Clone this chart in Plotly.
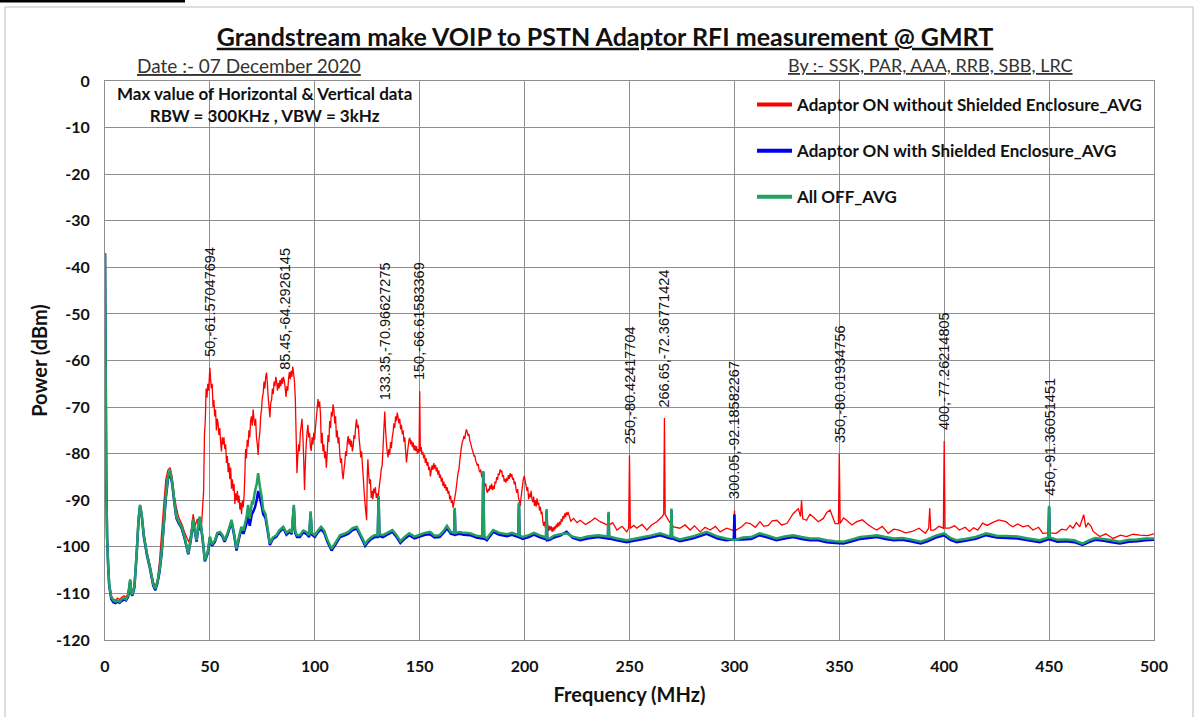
import plotly.graph_objects as go

# ---------------- data ----------------
# Adaptor ON without shielded enclosure (red), split in three frequency segments
red_freq_low = [0, 0.3, 0.6, 1, 1.5, 2, 3, 4, 5, 6, 7, 8, 9, 10, 11, 12, 12.5, 13, 14, 15, 16, 16.7, 17.5, 18.5,
                20, 21.5, 23, 24, 25, 26, 27, 28, 29, 30, 31, 32, 33, 34, 35, 36, 37, 38, 39, 40, 41, 42, 43, 44,
                45, 46]
red_dbm_low = [-37, -60, -85, -98, -104, -108, -110.5, -111.2, -111.5, -111, -111.3, -110.8, -110.5, -110.8, -110,
               -107, -109.5, -110, -108, -102, -94, -91, -93, -97, -101, -104, -107.5, -108.5, -107, -103, -97,
               -91, -85.5, -83.5, -83, -85, -89, -91.5, -93.5, -94.5, -95.5, -97, -98, -99, -97, -93, -95.5, -94,
               -96.5, -95.5]

red_freq_mid = [
    47.0, 47.4, 47.8, 48.2, 48.6, 49.0, 49.4, 49.8, 50.0, 50.3,
    50.7, 51.1, 51.5, 51.9, 52.3, 52.7, 53.1, 53.5, 53.9, 54.3,
    54.7, 55.1, 55.5, 55.9, 56.3, 56.7, 57.1, 57.5, 57.9, 58.3,
    58.7, 59.1, 59.5, 59.9, 60.3, 60.7, 61.1, 61.5, 61.9, 62.3,
    62.7, 63.1, 63.5, 63.9, 64.3, 64.7, 65.1, 65.5, 65.9, 66.3,
    66.7, 67.0, 67.4, 67.8, 68.2, 68.6, 69.0, 69.4, 69.8, 70.2,
    70.6, 71.0, 71.4, 71.8, 72.2, 72.6, 73.0, 73.4, 73.8, 74.2,
    74.6, 75.0, 75.4, 75.8, 76.2, 76.6, 77.0, 77.4, 77.8, 78.2,
    78.6, 79.0, 79.4, 79.8, 80.2, 80.6, 81.0, 81.4, 81.8, 82.2,
    82.6, 83.0, 83.4, 83.8, 84.2, 84.6, 85.0, 85.45, 85.9, 86.3,
    86.7, 87.1, 87.5, 87.9, 88.3, 88.7, 89.1, 89.5, 89.9, 90.3,
    90.7, 91.1, 91.5, 91.9, 92.3, 92.7, 93.1, 93.5, 93.9, 94.3,
    94.7, 95.1, 95.5, 95.9, 96.3, 96.7, 97.1, 97.5, 97.9, 98.3,
    98.7, 99.1, 99.5, 99.9, 100.3, 100.7, 101.1, 101.5, 101.9, 102.3,
    102.7, 103.1, 103.5, 103.9, 104.3, 104.7, 105.1, 105.5, 105.9, 106.3,
    106.7, 107.1, 107.5, 107.9, 108.3, 108.7, 109.1, 109.5, 109.9, 110.3,
    110.7, 111.1, 111.5, 111.9, 112.3, 112.7, 113.1, 113.5, 113.9, 114.3,
    114.7, 115.1, 115.5, 115.9, 116.3, 116.7, 117.1, 117.5, 117.9, 118.3,
    118.7, 119.1, 119.5, 119.9, 120.3, 120.7, 121.1, 121.5, 121.9, 122.3,
    122.7, 123.1, 123.5, 123.9, 124.3, 124.7, 125.0, 125.3, 125.7, 126.1,
    126.5, 126.9, 127.3, 127.7, 128.1, 128.5, 128.9, 129.3, 129.7, 130.1,
    130.5, 130.9, 131.3, 131.7, 132.1, 132.5, 132.9, 133.35, 133.7, 134.1,
    134.5, 134.9, 135.3, 135.7, 136.1, 136.5, 136.9, 137.3, 137.7, 138.1,
    138.5, 138.9, 139.3, 139.7, 140.1, 140.5, 140.9, 141.3, 141.7, 142.1,
    142.5, 142.9, 143.3, 143.7, 144.1, 144.5, 144.9, 145.3, 145.7, 146.1,
    146.5, 146.9, 147.3, 147.7, 148.1, 148.5, 148.9, 149.3, 149.7, 150.0,
    150.3, 150.7, 151.1, 151.5, 151.9, 152.3, 152.7, 153.1, 153.5, 153.9,
    154.3, 154.7, 155.1, 155.5, 155.9, 156.3, 156.7, 157.1, 157.5, 157.9,
    158.3, 158.7, 159.1, 159.5, 159.9, 160.3, 160.7, 161.1, 161.5, 161.9,
    162.3, 162.7, 163.1, 163.5, 163.9, 164.3, 164.7, 165.1, 165.5, 165.9,
    166.3, 166.7, 167.1, 167.5, 167.9, 168.3, 168.7, 169.1, 169.5, 169.9,
    170.3, 170.7, 171.1, 171.5, 171.9, 172.3, 172.7, 173.1, 173.5, 173.9,
    174.3, 174.7, 175.1, 175.5, 175.9, 176.3, 176.7, 177.1, 177.5, 177.9,
    178.3, 178.7, 179.1, 179.5, 179.9, 180.3, 180.7, 181.1, 181.5, 181.9,
    182.3, 182.7, 183.1, 183.5, 183.9, 184.3, 184.7, 185.1, 185.5, 185.9,
    186.3, 186.7, 187.1, 187.5, 187.9, 188.3, 188.7, 189.1, 189.5, 189.9,
    190.3, 190.7, 191.1, 191.5, 191.9, 192.3, 192.7, 193.1, 193.5, 193.9,
    194.3, 194.7, 195.1, 195.5, 195.9, 196.3, 196.7, 197.1, 197.5, 197.9,
    198.3, 198.7, 199.1, 199.5, 199.9, 200.3, 200.7, 201.1, 201.5, 201.9,
    202.3, 202.7, 203.1, 203.5, 203.9, 204.3, 204.7, 205.1, 205.5, 205.9,
    206.3, 206.7, 207.1, 207.5, 207.9, 208.3, 208.7, 209.1, 209.5, 209.9,
    210.3, 210.7, 211.1, 211.5, 211.9, 212.3, 212.7, 213.1, 213.5, 213.9,
    214.3, 214.7, 215.1, 215.5, 215.9, 216.3, 216.7, 217.1, 217.5, 217.9,
    218.3, 218.7, 219.1, 219.5, 219.9, 220.3, 220.7]
red_dbm_mid = [
    -88, -76, -73, -66, -68, -65, -66.5, -63, -61.57, -64,
    -66, -65, -70, -68.5, -72, -70.5, -75, -72.5, -73.5, -76,
    -74.5, -77.5, -79.5, -76.5, -78, -76.5, -79, -78, -82, -80.5,
    -84, -82, -85.5, -83, -87.5, -85.5, -88, -86.5, -90.8, -88.5,
    -90, -88, -90.5, -89, -92, -90.5, -93, -90, -91.5, -89,
    -84, -79, -81, -77, -78.5, -75, -76.5, -73, -72, -74,
    -70.5, -72.5, -74, -72.5, -76.5, -78, -80.3, -77, -75.5, -72,
    -70.5, -68, -67, -64.5, -66, -63.5, -62.6, -65, -68, -70,
    -72.2, -69, -68.5, -66, -67.2, -64.5, -65.5, -63.5, -64.5, -66.5,
    -64.8, -66, -64.2, -65.5, -63.8, -65, -63.5, -64.29, -66, -67.8,
    -65.5, -66.5, -63.8, -62.5, -64, -62.2, -63.5, -61.3, -62.8, -64.5,
    -68, -76, -84.2, -80.5, -78, -79.5, -75.5, -74, -72.5, -76,
    -81, -87.8, -82, -78, -75.5, -73.8, -76.5, -75.5, -78.5, -79.4,
    -76.5, -78, -75.5, -77, -74.5, -72.5, -70.5, -68.3, -70, -68.8,
    -71.5, -77.8, -75.5, -79.5, -78, -81, -79.5, -83, -80, -76,
    -77.5, -73, -74.5, -71, -72, -69.4, -70.5, -73.5, -72, -76.5,
    -75, -77.8, -76.5, -80, -82, -81, -84, -85.5, -83.5, -82,
    -79.5, -80.5, -77.5, -76.2, -78, -76.8, -78.5, -77.2, -79.5, -78.4,
    -76, -76.8, -74, -72.6, -74.5, -73.8, -76.5, -78.5, -80.8, -79.5,
    -82.5, -85, -88, -90.5, -92.5, -94.3, -85, -81.2, -84.5, -86.5,
    -85.5, -89.5, -88, -89.8, -87.5, -88.5, -87.2, -89.5, -88.5, -89.8,
    -88, -86.5, -85, -83.2, -82.6, -79, -75, -70.97, -74.5, -77.5,
    -79.5, -80.8, -79, -80.2, -77.5, -78.8, -76.5, -75.5, -73.5, -74.5,
    -72, -73, -71.2, -72.2, -73.5, -72.5, -74.8, -73.8, -75.8, -75,
    -77.5, -76.5, -79.5, -81.9, -80, -78.5, -77, -76.6, -78, -77.2,
    -78.6, -77.6, -79.3, -78.2, -79.4, -78.4, -80, -79, -79.8, -66.62,
    -79.5, -78.6, -80.2, -79.6, -81, -80.2, -82, -81, -82.6, -81.8,
    -83.5, -82.8, -84.9, -83.6, -82.5, -83.5, -82, -83.2, -82.4, -83.8,
    -83, -84.5, -83.6, -85.2, -84.5, -86, -85.2, -86.9, -86, -87.4,
    -86.6, -88, -87.2, -88.6, -88, -89.8, -89, -90.6, -90, -91.6,
    -90.6, -89.5, -88.5, -87, -85.5, -84, -83.4, -81.5, -80, -78.5,
    -77.6, -77, -76.2, -76.8, -75.5, -74.8, -75.4, -76.2, -75.8, -77.2,
    -77.8, -78.6, -79.2, -79.8, -80.6, -80.4, -81.5, -82, -82.6, -82.2,
    -83.6, -84, -83.4, -84.8, -85.2, -85.5, -86.5, -87, -86.4, -88,
    -88.4, -87.5, -88, -86.8, -87.6, -86.5, -87.8, -86.9, -87.6, -86,
    -86.4, -85, -85.6, -84.2, -84.6, -83.4, -84, -83.6, -85, -84.6,
    -86, -85.4, -86.2, -85.2, -85.8, -84.6, -85.4, -84.2, -85, -84.4,
    -85.6, -85.2, -86.6, -86, -87.6, -88.4, -87.6, -89.5, -90.2, -91.2,
    -89.5, -88, -86.5, -85.2, -84.8, -86, -86.8, -88, -87.2, -89.8,
    -88.6, -89.4, -88, -89.6, -90.4, -89.2, -91.2, -90, -91.4, -89.6,
    -91, -90.5, -92.2, -91.4, -93, -92.4, -94.6, -95.5, -94.6, -96,
    -95.2, -96.4, -95.4, -96.6, -95.5, -96.4, -95.6, -96.8, -95.8, -96.6,
    -95.6, -96.2, -95.2, -95.8, -94.8, -95.6, -94.6, -95.2, -94, -94.6,
    -93.4, -94, -92.8, -93.6, -92.6, -93.2, -92.5]

red_freq_high = [
    222, 223.3, 225, 226.5, 229, 231.3, 233.5, 236, 238, 240,
    242, 244, 246.5, 248.7, 249.6, 250, 250.4, 252, 253.5, 256,
    258.3, 260.5, 263, 265.4, 266.3, 266.65, 267, 268.6, 271, 274,
    276.5, 278.9, 281, 283.7, 286, 288.4, 291, 293.2, 296.3, 299.7,
    300.05, 300.4, 303.5, 305.5, 307.5, 310, 312.2, 314, 316.2, 318,
    320.2, 322.5, 325, 328, 330.5, 331.5, 332, 332.6, 334.4, 336,
    337.6, 340, 342.4, 344, 345.6, 348, 349.6, 350, 350.4, 352,
    353.5, 356, 358.3, 361, 363, 365.5, 367.8, 370.5, 373.3, 376,
    378.5, 381.5, 384.8, 388, 391, 392.6, 393.1, 393.6, 395.2, 397.5,
    399.6, 400, 400.4, 402.4, 405, 407.2, 410, 412, 414, 416,
    418.3, 420.5, 423, 426, 429.5, 431, 432.7, 435, 437.5, 440,
    442.3, 445, 447, 449.6, 450, 450.4, 453.4, 456, 458.2, 460,
    461.4, 463, 464.6, 466.5, 467.5, 468.6, 470, 471, 474.2, 477,
    480.5, 484, 486.9, 490, 493.3, 497, 500]
red_dbm_high = [
    -94.5, -93.9, -94.8, -94.3, -95.2, -94.6, -93.8, -94.6, -95, -95.4,
    -94.8, -96.4, -95.6, -96.8, -96, -80.42, -96, -95.4, -96, -95.2,
    -96.4, -95.3, -94.6, -93.6, -93, -72.37, -93, -94.3, -95.7, -96,
    -95.3, -96.4, -95.5, -96.8, -95.8, -96.4, -95.6, -96.8, -96, -96.5,
    -92.19, -96.5, -95.7, -94.8, -95, -95.8, -94.6, -95.6, -95.4, -94.4,
    -94.3, -95.3, -95, -92.9, -91.8, -93.5, -90, -94, -94.3, -93,
    -93.6, -94.6, -93.9, -92.6, -92.1, -95, -95, -80.02, -95, -93.8,
    -94.3, -95.3, -94.6, -94.2, -95, -95.8, -96.4, -95.6, -97.1, -96.2,
    -96.4, -97, -96.7, -96, -97.1, -96, -91.7, -96.4, -96.4, -95.6,
    -96, -77.26, -96, -96, -95.5, -96.4, -95.8, -96.7, -95.9, -96.4,
    -94.9, -95.4, -94.8, -94.2, -94.6, -95.2, -95.7, -95.1, -95.7, -95.4,
    -96.4, -95.8, -97.1, -97, -91.36, -97, -97.1, -96.2, -96.4, -95.4,
    -96, -94.8, -95.7, -93.1, -95.8, -94.9, -95.6, -96.7, -97.8, -97.2,
    -98.2, -97.5, -97.8, -97.3, -97.5, -97.6, -97.2]

# Adaptor ON with shielded enclosure (blue) and all OFF (green) share one frequency grid
freq_base = [0, 0.3, 0.6, 1, 1.5, 2, 3, 4, 5, 6, 7, 8, 9, 10, 11, 12, 12.5, 13, 14, 15, 16, 16.7, 17.5, 18.5,
             20, 21.5, 23, 24, 25, 26, 27, 28, 29, 30, 31, 32, 33, 34, 35, 36.5, 38, 39.7, 41, 42, 43, 43.7,
             44.5, 45.2, 46.5, 47.6, 49, 50, 51, 52.4, 53.5, 54.8, 56, 57, 58.5, 60.3, 61.5, 62.7, 64, 65, 66,
             67.5, 68.2, 69, 70, 70.6, 71.5, 72.3, 73, 73.8, 74.6, 75.4, 76.5, 77.5, 78.6, 80, 81.7, 83, 85, 86.5,
             88, 89, 90, 90.6, 91.5, 92.9, 94.5, 96, 97.3, 98, 98.6, 100, 101.5, 103, 104.5, 106, 108, 110, 112,
             114, 116, 118, 120, 122, 124, 125.5, 127, 128.5, 130, 130.4, 130.8, 132.5, 134.5, 137, 139, 140.8,
             143, 145, 147.5, 150, 152.5, 155, 157, 159.5, 161.5, 163, 164.8, 166.4, 166.7, 167, 169, 171, 174,
             177, 179.9, 180.3, 180.7, 182, 185, 188, 191.7, 194, 197, 197.3, 197.6, 199, 202, 204.5, 207, 210.2,
             210.5, 210.8, 212, 214, 217, 220, 223, 226.5, 230, 235, 239.7, 240, 240.3, 244, 248.7, 252, 256.7,
             260, 264.6, 268, 269.7, 270, 270.3, 274, 280, 286.8, 292, 296, 299.7, 300, 300.3, 304, 308, 312, 316,
             320, 324, 328, 332, 336, 340, 344, 348, 352, 356, 360, 364, 368, 372, 376, 380, 384, 388.8, 392, 396,
             400, 403, 406, 410, 415, 420, 425, 430, 435, 440, 445.5, 449.7, 450, 450.3, 454, 458, 462, 465.9,
             469, 472, 476, 480, 483.7, 488, 492, 496, 500]
off_dbm = [-37, -60, -85, -98, -104, -108, -110.8, -111.5, -111.8, -111.5, -111.8, -111.2, -111, -111.3, -110.5,
           -107, -109.8, -110.3, -108.5, -102, -94, -91, -93, -97.5, -101.5, -104.5, -108, -109, -107.5, -105,
           -101, -95, -89, -85, -83.5, -86, -90, -93.5, -94.5, -95.7, -98, -101.4, -98, -94, -97, -98.6, -95,
           -93.5, -98, -102.9, -101, -97.8, -99.5, -98.6, -97, -96.8, -97.5, -98.6, -97, -94.2, -97, -100.4,
           -97.5, -95.7, -96.5, -93.5, -91, -94, -90.5, -90.6, -88, -86.5, -84.2, -87, -89, -92, -93, -96, -99.3,
           -98, -97.5, -96.5, -95.7, -97, -96.4, -97, -91, -96.5, -97.5, -97.5, -96.5, -96.8, -97.5, -92.4, -97,
           -97.5, -96.5, -95.7, -96.5, -98.5, -100.4, -99, -97.5, -97.2, -96.8, -96, -95.7, -97.5, -99.4, -98.5,
           -97.9, -97.5, -97.5, -89, -97.3, -97.5, -97, -96.4, -97.5, -98.8, -97.8, -97.1, -97.8, -97.4, -97,
           -96.8, -97.6, -97.5, -96.5, -95.5, -96.8, -97, -91.6, -97, -96.8, -97, -97.1, -97.6, -97.8, -83.7,
           -97.8, -98.2, -96.4, -97, -97.3, -97, -97.5, -90.5, -97.5, -97.9, -97.5, -97, -97.5, -98, -91.9,
           -98.2, -98.2, -97.6, -97.3, -97.1, -97.8, -98.2, -97.8, -97.5, -97.8, -92.5, -97.8, -98.2, -98.6,
           -98.3, -97.9, -97.6, -97.1, -97.6, -97.8, -91.8, -97.8, -98.4, -97.8, -96.8, -97.8, -98.2, -98.5,
           -98.6, -98.5, -98, -97.9, -97.1, -97.6, -98.2, -97.8, -97.5, -97.9, -98.2, -98.2, -98.6, -98.8,
           -98.9, -98.4, -97.9, -97.7, -97.5, -97.9, -98.2, -98.1, -98.4, -98.9, -98.4, -97.6, -97.1, -98.1,
           -98.6, -98.3, -97.9, -97.1, -97.6, -97.7, -97.8, -98.2, -98.6, -98, -91.2, -98, -98.5, -98.4, -98.6,
           -99.3, -98.6, -98.1, -98.3, -98.6, -98.9, -98.5, -98.4, -98.2, -98.2]
shield_dbm = [-37, -60, -85, -98, -104, -108.3, -111.2, -111.9, -112.1, -111.8, -112, -111.6, -111.3, -111.5,
              -110.8, -107.3, -110, -110.5, -108.8, -102.3, -94.2, -91.2, -93.3, -97.8, -101.8, -104.8, -108.3,
              -109.3, -107.8, -105.3, -101.4, -95.5, -89.5, -85.5, -84, -86.4, -90.3, -93.8, -94.8, -96, -98.3,
              -101.6, -98.3, -94.4, -97.3, -98.9, -95.3, -93.8, -98.3, -103.1, -101.3, -98, -99.8, -98.9, -97.3,
              -97.1, -97.8, -98.9, -97.3, -94.6, -97.4, -100.8, -98, -96.3, -97.2, -95, -93.5, -95.5, -93, -92.5,
              -91.5, -90, -88, -89.5, -91, -93, -93.8, -96.5, -99.6, -98.3, -97.8, -96.9, -96, -97.4, -96.8, -97.3,
              -91.5, -96.9, -97.9, -97.9, -96.9, -97.2, -97.9, -92.8, -97.4, -97.9, -96.9, -96.2, -97, -98.9, -100.8,
              -99.4, -97.9, -97.6, -97.2, -96.4, -96.1, -97.9, -99.8, -98.9, -98.3, -97.9, -97.9, -89.4, -97.7,
              -97.9, -97.4, -96.8, -97.9, -99.2, -98.2, -97.5, -98.2, -97.8, -97.4, -97.3, -98, -97.9, -96.9, -96,
              -97.2, -97.4, -92, -97.4, -97.2, -97.4, -97.5, -98, -98.2, -84, -98.2, -98.6, -96.8, -97.4, -97.7,
              -97.4, -97.9, -90.9, -97.9, -98.3, -97.9, -97.4, -97.9, -98.4, -92.3, -98.6, -98.5, -98, -97.6,
              -96.8, -98.1, -98.6, -98.2, -97.9, -98.2, -92.9, -98.2, -98.6, -99, -98.7, -98.3, -98, -97.5, -98,
              -98.2, -92.2, -98.2, -98.8, -98.2, -97.2, -98.2, -98.6, -98.4, -93, -98.4, -98.4, -98.3, -97.5, -98,
              -98.6, -98.2, -97.9, -98.3, -98.6, -98.6, -99, -99.2, -99.3, -98.8, -98.3, -98.1, -97.9, -98.3, -98.6,
              -98.5, -98.8, -99.3, -98.8, -98, -97.5, -98.5, -99, -98.7, -98.3, -97.5, -98, -98.1, -98.2, -98.6,
              -99, -98.4, -91.5, -98.4, -98.9, -98.8, -99, -99.6, -99, -98.5, -98.7, -99, -99.3, -98.9, -98.8,
              -98.6, -98.5]

label_freq = [50, 85.45, 133.35, 150, 250, 266.65, 300.05, 350, 400, 450]
label_dbm = [-61.57047694, -64.2926145, -70.96627275, -66.61583369, -80.42417704, -72.36771424,
             -92.18582267, -80.01934756, -77.26214805, -91.36051451]

series_names = ["Adaptor ON without Shielded Enclosure_AVG",
                "Adaptor ON with Shielded Enclosure_AVG",
                "All OFF_AVG"]
series_colors = ["#ff0000", "#0000ee", "#22a062"]

y_ticks = list(range(0, -121, -10))
x_ticks = list(range(0, 501, 50))

freq_red = red_freq_low + red_freq_mid + red_freq_high
red_dbm = red_dbm_low + red_dbm_mid + red_dbm_high

# ---------------- figure ----------------
W, H = 1198, 717
L, R, T, B = 105, 44, 81, 77
pw, ph = W - L - R, H - T - B


def px(xp):  # pixel -> paper x
    return (xp - L) / pw


def py(yp):  # pixel -> paper y
    return (H - B - yp) / ph


FONT = "Lato"
fig = go.Figure()

fig.add_trace(go.Scatter(x=freq_red, y=red_dbm, mode="lines", showlegend=False,
                         line=dict(color=series_colors[0], width=1.3, simplify=False)))
fig.add_trace(go.Scatter(x=freq_base, y=shield_dbm, mode="lines", showlegend=False,
                         line=dict(color=series_colors[1], width=2.5, simplify=False)))
fig.add_trace(go.Scatter(x=freq_base, y=off_dbm, mode="lines", showlegend=False,
                         line=dict(color=series_colors[2], width=2.5, simplify=False)))

for i, (nm, c) in enumerate(zip(series_names, series_colors)):
    fig.add_trace(go.Scatter(x=[None], y=[None], mode="lines", name=nm, legendgroup=str(i),
                             line=dict(color=c, width=4)))

# data labels
for f, v in zip(label_freq, label_dbm):
    fig.add_annotation(x=f, y=v, text=f"{f},{v}", textangle=-90, showarrow=False,
                       xanchor="center", yanchor="bottom", yshift=9,
                       font=dict(family="Liberation Sans", size=14.5, color="#111111"))

# headers
fig.add_annotation(xref="paper", yref="paper", x=px(135), y=py(65), xanchor="left", yanchor="middle",
                   text="<u>Date :- 07 December 2020</u>", showarrow=False,
                   font=dict(family=FONT, size=19, color="#333333"))
fig.add_annotation(xref="paper", yref="paper", x=px(1075), y=py(65), xanchor="right", yanchor="middle",
                   text="<u>By :- SSK, PAR, AAA, RRB, SBB, LRC</u>", showarrow=False,
                   font=dict(family=FONT, size=18, color="#333333"))
fig.add_annotation(xref="paper", yref="paper", x=px(264), y=py(105), xanchor="center", yanchor="middle",
                   text="Max value of Horizontal & Vertical data<br>RBW = 300KHz , VBW = 3kHz",
                   align="center", showarrow=False,
                   font=dict(family=FONT, size=17, color="#111111", weight="bold"))

# outer frame and corner mark
fig.add_shape(type="rect", xref="paper", yref="paper", x0=px(5), x1=px(1193), y0=py(730), y1=py(7),
              line=dict(color="#bdbdbd", width=1), layer="below")
fig.add_shape(type="line", xref="paper", yref="paper", x0=px(0), x1=px(185), y0=py(1), y1=py(1),
              line=dict(color="#000000", width=3))

grid = "#8f8f8f"
fig.update_layout(
    width=W, height=H, margin=dict(l=L, r=R, t=T, b=B),
    paper_bgcolor="white", plot_bgcolor="white",
    font=dict(family=FONT, color="#111111"),
    title=dict(text="<u>Grandstream make VOIP to PSTN Adaptor RFI measurement @ GMRT</u>",
               x=605 / W, y=1 - 37 / H, xanchor="center", yanchor="middle", xref="container",
               yref="container",
               font=dict(family=FONT, size=25, color="#111111", weight="bold")),
    legend=dict(x=px(752), y=py(87), xanchor="left", yanchor="top", bgcolor="rgba(0,0,0,0)",
                font=dict(family=FONT, size=17, color="#111111", weight="bold"),
                tracegroupgap=21, itemwidth=35),
    xaxis=dict(range=[0, 500], tickvals=x_ticks, ticktext=[str(t) for t in x_ticks],
               showgrid=True, gridcolor=grid, gridwidth=1, zeroline=False,
               showline=True, linecolor=grid, linewidth=1, mirror=True,
               ticks="", ticklabelstandoff=12,
               tickfont=dict(family=FONT, size=16, color="#111111", weight="bold"),
               title=dict(text="Frequency (MHz)", standoff=13,
                          font=dict(family=FONT, size=20, color="#111111", weight="bold"))),
    yaxis=dict(range=[-120, 0], tickvals=y_ticks, ticktext=[str(t) for t in y_ticks],
               showgrid=True, gridcolor=grid, gridwidth=1, zeroline=False,
               showline=True, linecolor=grid, linewidth=1, mirror=True,
               ticks="", ticklabelstandoff=11,
               tickfont=dict(family=FONT, size=16, color="#111111", weight="bold"),
               title=dict(text="Power (dBm)", standoff=2,
                          font=dict(family=FONT, size=20, color="#111111", weight="bold"))),
)

fig.write_html("out.html")
